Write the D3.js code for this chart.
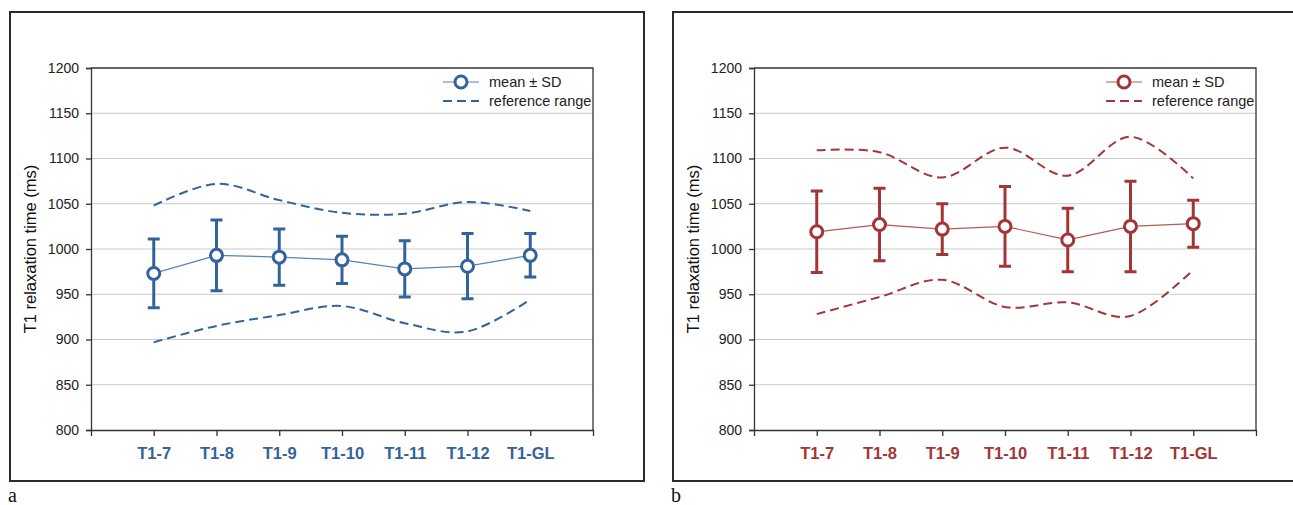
<!DOCTYPE html>
<html>
<head>
<meta charset="utf-8">
<script src="https://cdn.jsdelivr.net/npm/d3@7"></script>
<style>
  body { margin: 0; background: #fff; }
  svg { display: block; font-family: "Liberation Sans", Arial, sans-serif; }
</style>
</head>
<body>
<svg id="chart" width="1293" height="505"></svg>
<script>
// values
var categories = ["T1-7", "T1-8", "T1-9", "T1-10", "T1-11", "T1-12", "T1-GL"];
var yTicks = [800, 850, 900, 950, 1000, 1050, 1100, 1150, 1200];

var blueMean  = [973, 993, 991, 988, 978, 981, 993];
var blueSD    = [38, 39, 31, 26, 31, 36, 24];
var blueUpper = [1048, 1072, 1054, 1040, 1039, 1052, 1042];
var blueLower = [897, 915, 927, 937, 918, 909, 944];

var redMean  = [1019, 1027, 1022, 1025, 1010, 1025, 1028];
var redSD    = [45, 40, 28, 44, 35, 50, 26];
var redUpper = [1109, 1107, 1079, 1112, 1081, 1124, 1078];
var redLower = [928, 947, 966, 936, 941, 926, 977];

var svg = d3.select("#chart");

// frame is 634 wide, plot area sits inside it
var panelW = 634, panelH = 469;
var margin = { top: 56, left: 81, right: 51, bottom: 51 };
var width = panelW - margin.left - margin.right;
var height = panelH - margin.top - margin.bottom;

function drawPanel(px, letter, mean, sd, upper, lower, color, lineColor) {
  var panel = svg.append("g").attr("transform", `translate(${px}, 12)`);

  panel.append("rect")
    .attr("width", panelW)
    .attr("height", panelH)
    .attr("fill", "none")
    .attr("stroke", "#2b2b2b")
    .attr("stroke-width", 2);

  svg.append("text")
    .attr("x", px - 2)
    .attr("y", 502)
    .attr("font-family", "'Liberation Serif', 'Times New Roman', serif")
    .attr("font-size", "20px")
    .attr("fill", "#111")
    .text(letter);

  var g = panel.append("g")
    .attr("transform", `translate(${margin.left}, ${margin.top})`);

  var x = d3.scalePoint()
    .domain(categories)
    .range([0, width])
    .padding(1);

  var y = d3.scaleLinear()
    .domain([800, 1200])
    .range([height, 0]);

  // gridlines
  g.selectAll("line.grid")
    .data(yTicks.slice(1, -1))
    .enter()
    .append("line")
    .attr("class", "grid")
    .attr("x1", 0)
    .attr("x2", width)
    .attr("y1", function (d) { return y(d); })
    .attr("y2", function (d) { return y(d); })
    .attr("stroke", "#c9c9c9")
    .attr("stroke-width", 1);

  // plot border (top and right)
  g.append("path")
    .attr("d", `M0,${y(1200)}H${width}V${height}`)
    .attr("fill", "none")
    .attr("stroke", "#333")
    .attr("stroke-width", 1.3);

  var yAxis = g.append("g")
    .call(d3.axisLeft(y).tickValues(yTicks).tickFormat(d3.format("d")).tickSize(5).tickPadding(7));
  yAxis.selectAll("path, line").attr("stroke", "#333").attr("stroke-width", 1.3);
  yAxis.selectAll("text")
    .attr("font-size", "14px")
    .attr("font-family", "'Liberation Sans', Arial, sans-serif")
    .attr("fill", "#222");

  var xAxis = g.append("g")
    .attr("transform", `translate(0, ${height})`)
    .call(d3.axisBottom(x).tickSize(6).tickSizeOuter(6).tickPadding(11));
  xAxis.selectAll("path, line").attr("stroke", "#333").attr("stroke-width", 1.3);
  xAxis.selectAll("text")
    .attr("font-size", "16.5px")
    .attr("font-weight", "bold")
    .attr("font-family", "'Liberation Sans', Arial, sans-serif")
    .attr("fill", color);

  // y label
  g.append("text")
    .attr("transform", "rotate(-90)")
    .attr("x", -height / 2)
    .attr("y", -55)
    .attr("text-anchor", "middle")
    .attr("font-size", "16.5px")
    .attr("fill", "#111")
    .text("T1 relaxation time (ms)");

  // reference range
  var smooth = d3.line()
    .x(function (d, i) { return x(categories[i]); })
    .y(function (d) { return y(d); })
    .curve(d3.curveCatmullRom.alpha(0));

  [upper, lower].forEach(function (s) {
    g.append("path")
      .attr("d", smooth(s))
      .attr("fill", "none")
      .attr("stroke", color)
      .attr("stroke-width", 2)
      .attr("stroke-dasharray", "9,5");
  });

  // mean line
  var straight = d3.line()
    .x(function (d, i) { return x(categories[i]); })
    .y(function (d) { return y(d); });

  g.append("path")
    .attr("d", straight(mean))
    .attr("fill", "none")
    .attr("stroke", lineColor)
    .attr("stroke-width", 1.2);

  // error bars
  var bars = g.selectAll("g.err")
    .data(mean)
    .enter()
    .append("g")
    .attr("class", "err")
    .attr("transform", function (d, i) { return `translate(${x(categories[i])}, 0)`; });

  bars.append("line")
    .attr("y1", function (d, i) { return y(d + sd[i]); })
    .attr("y2", function (d, i) { return y(d - sd[i]); })
    .attr("stroke", color)
    .attr("stroke-width", 3);

  bars.append("path")
    .attr("d", function (d, i) {
      return `M-6,${y(d + sd[i])}H6M-6,${y(d - sd[i])}H6`;
    })
    .attr("stroke", color)
    .attr("stroke-width", 3);

  bars.append("circle")
    .attr("cy", function (d) { return y(d); })
    .attr("r", 6)
    .attr("fill", "#fff")
    .attr("stroke", color)
    .attr("stroke-width", 3);

  // legend
  var lg = g.append("g").attr("font-size", "14.5px").attr("fill", "#222");
  var lx = width - 150;
  lg.append("line")
    .attr("x1", lx).attr("x2", lx + 36)
    .attr("y1", 14).attr("y2", 14)
    .attr("stroke", lineColor).attr("stroke-width", 1.2);
  lg.append("circle")
    .attr("cx", lx + 18).attr("cy", 14).attr("r", 6)
    .attr("fill", "#fff").attr("stroke", color).attr("stroke-width", 3);
  lg.append("text")
    .attr("x", width - 104).attr("y", 14).attr("dy", "0.35em")
    .text("mean \u00b1 SD");

  lg.append("line")
    .attr("x1", lx).attr("x2", lx + 36)
    .attr("y1", 33).attr("y2", 33)
    .attr("stroke", color).attr("stroke-width", 2)
    .attr("stroke-dasharray", "9,5");
  lg.append("text")
    .attr("x", width - 104).attr("y", 33).attr("dy", "0.35em")
    .text("reference range");
}

drawPanel(10, "a", blueMean, blueSD, blueUpper, blueLower, "#33639b", "#5a82b3");
drawPanel(673, "b", redMean, redSD, redUpper, redLower, "#a33536", "#b95858");
</script>
</body>
</html>
